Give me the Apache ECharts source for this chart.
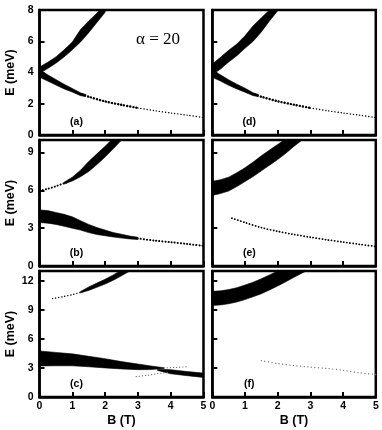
<!DOCTYPE html>
<html>
<head>
<meta charset="utf-8">
<script src="https://cdn.jsdelivr.net/npm/echarts@6/dist/echarts.min.js"></script>
<style>
html, body {margin:0; padding:0; background:#fff;}
#chart {width:382px; height:430px;}
</style>
</head>
<body>
<div id="chart"></div>
<script>
// panel order: a, b, c (left column), d, e, f (right column)
var panelNames = ['(a)', '(b)', '(c)', '(d)', '(e)', '(f)'];
var eMax = [8, 10, 13, 8, 10, 13];
var eStep = [2, 3, 3, 2, 3, 3];

// (a)  bands are given as lower / upper edge in meV
var aUpB  = [0, 0.25, 0.5, 0.75, 1.0, 1.25, 1.5, 1.75, 2.0];
var aUpLo = [3.95, 4.25, 4.6, 5.0, 5.45, 5.95, 6.55, 7.2, 7.85];
var aUpHi = [4.35, 4.65, 5.0, 5.45, 5.95, 6.75, 7.3, 7.8, 8.4];
var aLowB  = [0, 0.25, 0.5, 0.75, 1.0, 1.25, 1.4];
var aLowLo = [3.7, 3.45, 3.2, 2.95, 2.75, 2.52, 2.46];
var aLowHi = [4.2, 3.85, 3.55, 3.25, 2.98, 2.7, 2.6];
var aTailB = [1.3, 1.5, 2.0, 2.5, 3.0, 3.5, 4.0, 4.5, 5.0];
var aTailE = [2.6, 2.45, 2.15, 1.93, 1.73, 1.56, 1.41, 1.27, 1.12];

// (b)
var bUpDotB = [0.1, 0.25, 0.5, 0.75, 0.9];
var bUpDotE = [6.03, 6.12, 6.33, 6.57, 6.7];
var bUpB  = [0.75, 1.0, 1.25, 1.5, 1.75, 2.0, 2.25, 2.5];
var bUpLo = [6.5, 6.75, 7.08, 7.5, 8.05, 8.65, 9.3, 10.0];
var bUpHi = [6.65, 7.05, 7.6, 8.3, 8.9, 9.5, 10.15, 10.85];
var bLowB  = [0, 0.25, 0.5, 0.75, 1.0, 1.25, 1.5, 1.75, 2.0, 2.25, 2.5, 2.75, 3.0];
var bLowLo = [3.45, 3.4, 3.3, 3.15, 3.0, 2.85, 2.65, 2.5, 2.4, 2.3, 2.22, 2.15, 2.1];
var bLowHi = [4.45, 4.4, 4.25, 4.1, 3.9, 3.6, 3.3, 3.05, 2.85, 2.65, 2.52, 2.38, 2.28];
var bTailB = [2.9, 3.5, 4.0, 4.5, 5.0];
var bTailE = [2.22, 2.02, 1.89, 1.75, 1.6];

// (c)
var cUpDotB = [0.4, 0.75, 1.0, 1.25, 1.4];
var cUpDotE = [10.15, 10.38, 10.56, 10.8, 10.95];
var cUpB  = [1.25, 1.5, 1.75, 2.0, 2.25, 2.5, 2.75];
var cUpLo = [10.75, 11.0, 11.32, 11.65, 12.05, 12.5, 13.0];
var cUpHi = [10.88, 11.35, 11.75, 12.15, 12.6, 13.1, 13.6];
var cLowB  = [0, 0.5, 1.0, 1.5, 2.0, 2.5, 3.0, 3.4, 3.8];
var cLowLo = [3.2, 3.22, 3.22, 3.12, 3.0, 2.9, 2.82, 2.83, 2.95];
var cLowHi = [4.75, 4.6, 4.45, 4.2, 3.95, 3.65, 3.4, 3.2, 3.02];
var cRightB  = [3.6, 4.0, 4.5, 5.0];
var cRightLo = [2.74, 2.4, 2.2, 2.02];
var cRightHi = [2.86, 2.82, 2.62, 2.47];
var cFaintLowB = [2.95, 3.3, 3.6, 3.9];
var cFaintLowE = [2.1, 2.25, 2.4, 2.55];
var cFaintUpB = [3.8, 4.1, 4.5];
var cFaintUpE = [3.0, 3.05, 3.12];

// (d)
var dUpB  = [0, 0.25, 0.5, 0.75, 1.0, 1.25, 1.5, 1.75, 2.0];
var dUpLo = [3.85, 4.22, 4.67, 5.07, 5.55, 6.0, 6.6, 7.3, 7.95];
var dUpHi = [4.55, 4.97, 5.42, 5.82, 6.35, 7.0, 7.5, 8.0, 8.65];
var dLowB  = [0, 0.25, 0.5, 0.75, 1.0, 1.25, 1.4];
var dLowLo = [3.7, 3.45, 3.18, 2.95, 2.74, 2.52, 2.46];
var dLowHi = [4.15, 3.85, 3.53, 3.25, 3.0, 2.7, 2.6];
var dTailB = [1.3, 1.5, 2.0, 2.5, 3.0, 3.5, 4.0, 4.5, 5.0];
var dTailE = [2.6, 2.45, 2.16, 1.94, 1.73, 1.56, 1.41, 1.27, 1.12];

// (e)
var eUpB  = [0, 0.25, 0.5, 0.75, 1.0, 1.25, 1.5, 1.75, 2.0, 2.25, 2.5, 2.75];
var eUpLo = [5.6, 5.75, 5.95, 6.3, 6.7, 7.1, 7.55, 8.0, 8.45, 8.95, 9.5, 10.0];
var eUpHi = [6.72, 6.85, 7.05, 7.4, 7.8, 8.25, 8.75, 9.2, 9.65, 10.1, 10.6, 11.1];
var eTailB = [0.6, 1.0, 1.5, 2.0, 2.5, 3.0, 3.5, 4.0, 4.5, 5.0];
var eTailE = [3.8, 3.45, 3.05, 2.75, 2.5, 2.28, 2.08, 1.9, 1.72, 1.55];

// (f)
var fUpB  = [0, 0.25, 0.5, 0.75, 1.0, 1.25, 1.5, 1.75, 2.0, 2.25, 2.5, 2.75, 3.0];
var fUpLo = [9.45, 9.5, 9.62, 9.8, 10.05, 10.35, 10.65, 11.05, 11.45, 11.9, 12.35, 12.8, 13.2];
var fUpHi = [10.9, 10.95, 11.08, 11.28, 11.55, 11.85, 12.2, 12.6, 13.0, 13.45, 13.9, 14.3, 14.7];
var fTailB = [1.5, 2.0, 2.5, 3.0, 3.5, 4.0, 4.5, 5.0];
var fTailE = [3.75, 3.45, 3.25, 3.08, 2.95, 2.75, 2.5, 2.32];

var colLeft = [39.5, 212.3];
var colWidth = [164, 163.5];
var rowTop = [10, 140, 271];
var rowHeight = [125, 126, 126];
var sans = '"Liberation Sans", Arial, sans-serif';

// filled band between lo and hi, drawn as one polygon
function band(p, B, lo, hi) {
    return {
        type: 'custom', xAxisIndex: p, yAxisIndex: p, clip: true, silent: true,
        data: B.map(function (b, i) { return [b, lo[i], hi[i]]; }),
        renderItem: function (params, api) {
            if (params.dataIndex !== 0) return;
            var pts = [];
            for (var i = 0; i < B.length; i++) pts.push(api.coord([B[i], hi[i]]));
            for (var j = B.length - 1; j >= 0; j--) pts.push(api.coord([B[j], lo[j]]));
            return {type: 'polygon', shape: {points: pts}, style: {fill: '#000', stroke: '#000', lineWidth: 0.6}};
        }
    };
}

// dotted thin branch
function dots(p, B, E, w, gap, color) {
    return {
        type: 'line', xAxisIndex: p, yAxisIndex: p, symbol: 'none', smooth: 0.3, silent: true,
        data: B.map(function (b, i) { return [b, E[i]]; }),
        lineStyle: {color: color || '#000', width: w, type: [0.1, gap], cap: 'round'}
    };
}

var grids = [], xAxes = [], yAxes = [], graphics = [];
for (var p = 0; p < 6; p++) {
    var col = p < 3 ? 0 : 1;
    var row = p % 3;
    grids.push({left: colLeft[col], top: rowTop[row], width: colWidth[col], height: rowHeight[row],
        show: true, borderColor: '#000', borderWidth: 2.5, backgroundColor: '#fff'});
    xAxes.push({
        type: 'value', gridIndex: p, min: 0, max: 5, interval: 1,
        name: row == 2 ? 'B (T)' : '', nameLocation: 'middle', nameGap: 17,
        nameTextStyle: {fontFamily: sans, fontWeight: 'bold', fontSize: 12.5, color: '#000'},
        axisLine: {lineStyle: {color: '#000', width: 2.5}},
        axisTick: {inside: true, length: 5, lineStyle: {color: '#000', width: 2}},
        axisLabel: {show: row == 2, margin: 4, fontFamily: sans, fontWeight: 'bold', fontSize: 10.5, color: '#000'},
        splitLine: {show: false}
    });
    yAxes.push({
        type: 'value', gridIndex: p, min: 0, max: eMax[p], interval: eStep[p],
        name: col == 0 ? 'E (meV)' : '', nameLocation: 'middle', nameGap: 22,
        nameTextStyle: {fontFamily: sans, fontWeight: 'bold', fontSize: 12.5, color: '#000'},
        axisLine: {lineStyle: {color: '#000', width: 2.5}},
        axisTick: {inside: true, length: 5, lineStyle: {color: '#000', width: 2}},
        axisLabel: {show: col == 0, margin: 6, showMaxLabel: eMax[p] % eStep[p] == 0,
            fontFamily: sans, fontWeight: 'bold', fontSize: 10.5, color: '#000'},
        splitLine: {show: false}
    });
    graphics.push({
        type: 'text', x: colLeft[col] + 37, y: rowTop[row] + rowHeight[row] - 13, silent: true,
        style: {text: panelNames[p], font: 'bold 10.5px ' + sans, fill: '#000', align: 'center', verticalAlign: 'middle'}
    });
}
graphics.push({
    type: 'text', x: 158, y: 40, silent: true,
    style: {text: 'α = 20', font: '17px "Liberation Serif", "Times New Roman", serif', fill: '#000', align: 'center', verticalAlign: 'middle'}
});

var series = [
    band(0, aUpB, aUpLo, aUpHi), band(0, aLowB, aLowLo, aLowHi),
    dots(0, aTailB.slice(0, 5), aTailE.slice(0, 5), 2.4, 3), dots(0, aTailB.slice(4), aTailE.slice(4), 1.4, 3),
    dots(1, bUpDotB, bUpDotE, 2, 3), band(1, bUpB, bUpLo, bUpHi), band(1, bLowB, bLowLo, bLowHi),
    dots(1, bTailB, bTailE, 2, 3),
    dots(2, cUpDotB, cUpDotE, 1.4, 3), band(2, cUpB, cUpLo, cUpHi), band(2, cLowB, cLowLo, cLowHi),
    band(2, cRightB, cRightLo, cRightHi), dots(2, cFaintLowB, cFaintLowE, 1.2, 3, '#666'),
    dots(2, cFaintUpB, cFaintUpE, 1.2, 3, '#666'),
    band(3, dUpB, dUpLo, dUpHi), band(3, dLowB, dLowLo, dLowHi),
    dots(3, dTailB.slice(0, 5), dTailE.slice(0, 5), 2.4, 3), dots(3, dTailB.slice(4), dTailE.slice(4), 1.4, 3),
    band(4, eUpB, eUpLo, eUpHi), dots(4, eTailB, eTailE, 1.8, 3),
    band(5, fUpB, fUpLo, fUpHi), dots(5, fTailB, fTailE, 1.3, 3.5, '#777')
];

var myChart = echarts.init(document.getElementById('chart'), null, {renderer: 'canvas'});
myChart.setOption({
    animation: false,
    backgroundColor: '#fff',
    grid: grids,
    xAxis: xAxes,
    yAxis: yAxes,
    graphic: graphics,
    series: series
});
</script>
</body>
</html>
